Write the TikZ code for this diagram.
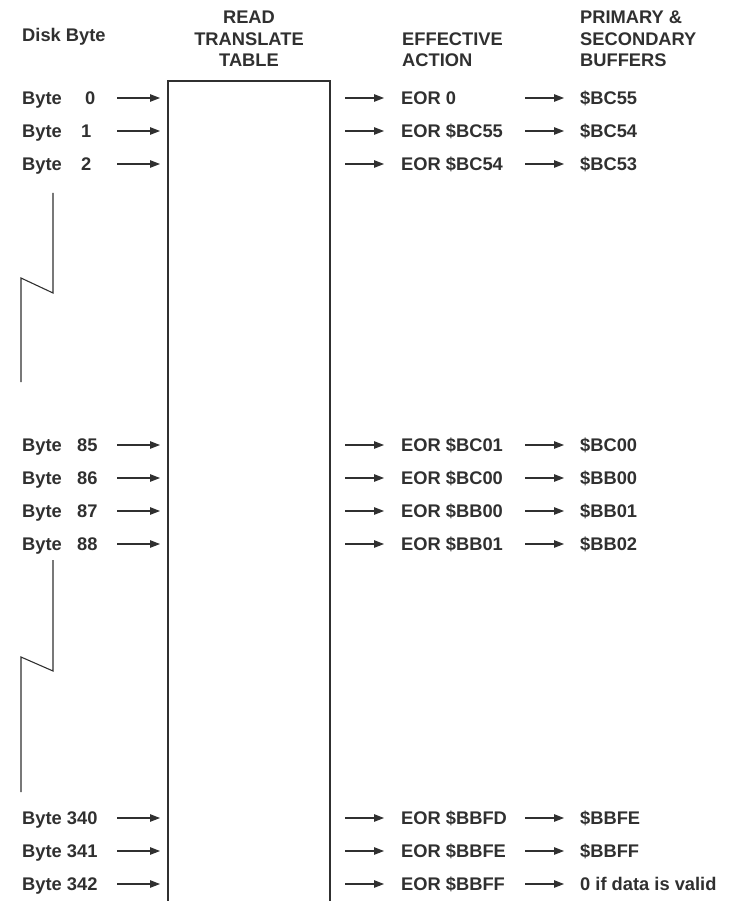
\documentclass[tikz,border=0pt]{standalone}
\usepackage{fontspec}
\setmainfont{Liberation Sans}
\usetikzlibrary{arrows.meta}
\definecolor{ink}{HTML}{303030}
\begin{document}
\begin{tikzpicture}[x=1pt,y=-1pt,
  txt/.style={anchor=base west,inner sep=0pt,text=ink,font=\fontsize{18.3}{20}\selectfont\bfseries},
  ctr/.style={anchor=base,inner sep=0pt,text=ink,font=\fontsize{18.3}{20}\selectfont\bfseries},
  conn/.style={draw=ink,line width=1.1pt,-{Triangle[length=10pt,width=7.5pt]}},
  frame/.style={draw=ink,line width=1.6pt},
  brk/.style={draw=ink,line width=1.1pt,line join=miter}]
\useasboundingbox (0,0) rectangle (733,901);
% headers
\node[txt] (hdisk) at (22,41.5) {Disk Byte};
\node[ctr] (hread) at (249,24) {READ};
\node[ctr] (htrans) at (249,45.5) {TRANSLATE};
\node[ctr] (htable) at (249,67) {TABLE};
\node[txt] (heff) at (402,45.5) {EFFECTIVE};
\node[txt] (hact) at (402,67) {ACTION};
\node[txt] (hpri) at (580,24) {PRIMARY \&};
\node[txt] (hsec) at (580,45.5) {SECONDARY};
\node[txt] (hbuf) at (580,67) {BUFFERS};
% table box (open at bottom)
\coordinate (bl) at (168,901);
\coordinate (tl) at (168,81);
\coordinate (tr) at (330,81);
\coordinate (br) at (330,901);
\draw[frame] (bl) -- (tl) -- (tr) -- (br);
% rows
\foreach \nm/\y/\nx/\num/\eor/\buf in {
  r0/98/85/0/EOR 0/\$BC55,
  r1/131/81/1/EOR \$BC55/\$BC54,
  r2/164/81/2/EOR \$BC54/\$BC53,
  r85/445/77/85/EOR \$BC01/\$BC00,
  r86/478/77/86/EOR \$BC00/\$BB00,
  r87/511/77/87/EOR \$BB00/\$BB01,
  r88/544/77/88/EOR \$BB01/\$BB02}{
  \node[txt] (\nm b) at (22,\y+6.6) {Byte};
  \node[txt] (\nm n) at (\nx,\y+6.6) {\num};
  \node[txt] (\nm e) at (401,\y+6.6) {\eor};
  \node[txt] (\nm g) at (580,\y+6.6) {\buf};
  \coordinate (\nm a) at (117,\y);
  \coordinate (\nm c) at (160,\y);
  \coordinate (\nm d) at (345,\y);
  \coordinate (\nm h) at (384,\y);
  \coordinate (\nm f) at (525,\y);
  \coordinate (\nm i) at (564,\y);
  \draw[conn] (\nm a) -- (\nm c);
  \draw[conn] (\nm d) -- (\nm h);
  \draw[conn] (\nm f) -- (\nm i);
}
\foreach \nm/\y/\num/\eor/\buf in {
  r340/818/340/EOR \$BBFD/\$BBFE,
  r341/851/341/EOR \$BBFE/\$BBFF,
  r342/884/342/EOR \$BBFF/0 if data is valid}{
  \node[txt] (\nm b) at (22,\y+6.6) {Byte \num};
  \node[txt] (\nm e) at (401,\y+6.6) {\eor};
  \node[txt] (\nm g) at (580,\y+6.6) {\buf};
  \coordinate (\nm a) at (117,\y);
  \coordinate (\nm c) at (160,\y);
  \coordinate (\nm d) at (345,\y);
  \coordinate (\nm h) at (384,\y);
  \coordinate (\nm f) at (525,\y);
  \coordinate (\nm i) at (564,\y);
  \draw[conn] (\nm a) -- (\nm c);
  \draw[conn] (\nm d) -- (\nm h);
  \draw[conn] (\nm f) -- (\nm i);
}
% break marks
\coordinate (k1a) at (53,193); \coordinate (k1b) at (53,293);
\coordinate (k1c) at (21,278); \coordinate (k1d) at (21,382);
\coordinate (k2a) at (53,560); \coordinate (k2b) at (53,671);
\coordinate (k2c) at (21,657); \coordinate (k2d) at (21,792);
\draw[brk] (k1a) -- (k1b) -- (k1c) -- (k1d);
\draw[brk] (k2a) -- (k2b) -- (k2c) -- (k2d);
\end{tikzpicture}
\end{document}
